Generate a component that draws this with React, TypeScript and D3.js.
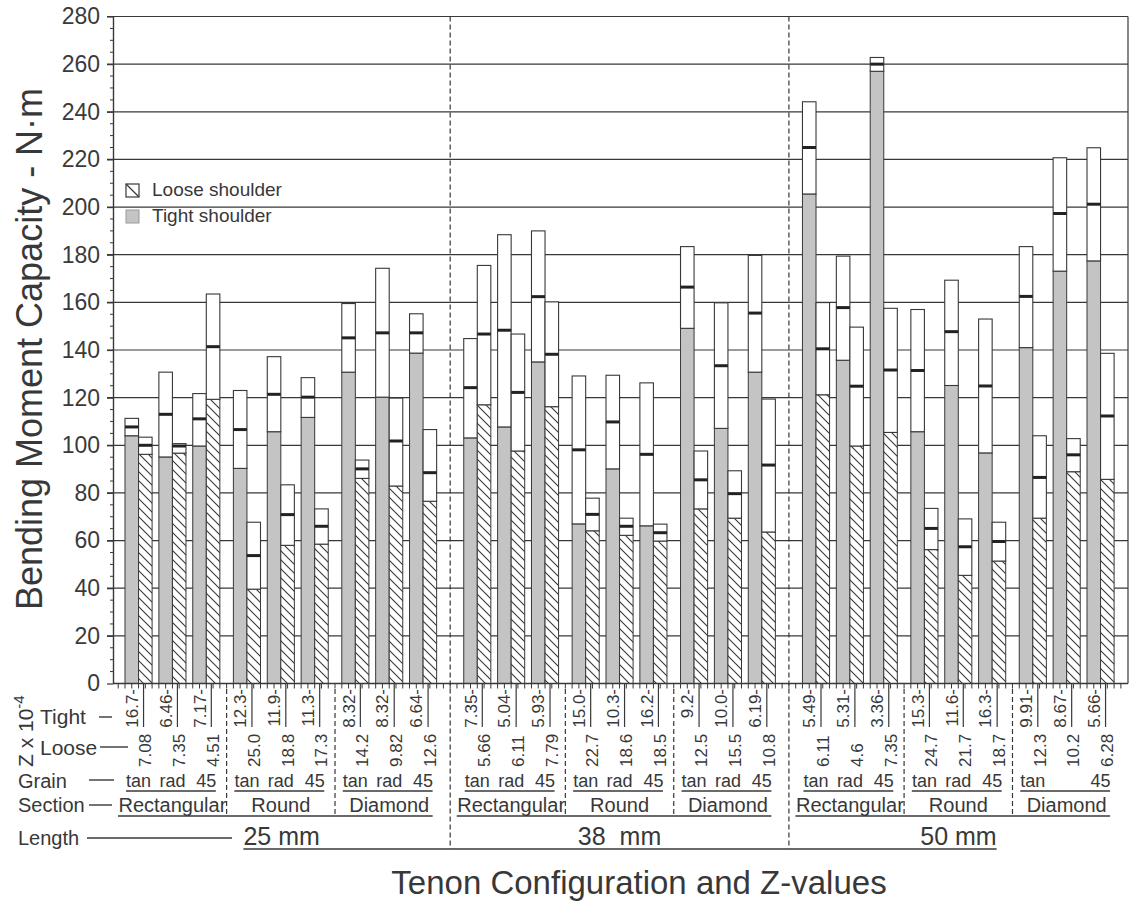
import React, { useEffect, useRef } from "react";
import * as d3 from "d3";

// lengths / sections / grains (27 groups = 3 x 3 x 3)
const lengths = ["25 mm", "38  mm", "50 mm"];
const sections = ["Rectangular", "Round", "Diamond"];
const grainLabels = [
  "tan", "rad", "45", "tan", "rad", "45", "tan", "rad", "45",
  "tan", "rad", "45", "tan", "rad", "45", "tan", "rad", "45",
  "tan", "rad", "45", "tan", "rad", "45", "tan", "", "45",
];

// tight shoulder: min / mean / max
const tightMin = [104, 95.1, 99.7, 90.3, 105.7, 111.7, 130.7, 120.2, 138.7,
  103.1, 107.7, 135, 67, 90.1, 66.2, 149.1, 107.1, 130.7,
  205.5, 135.7, 257, 105.7, 125.1, 96.8, 141, 173.1, 177.4];
const tightMean = [107.7, 113, 111.1, 106.6, 121.4, 120.2, 145.1, 147.2, 147.2,
  124.2, 148.3, 162.4, 98.1, 109.8, 96.2, 166.4, 133.4, 155.5,
  225, 157.8, 260, 131.4, 147.7, 124.9, 162.5, 197.3, 201.2];
const tightMax = [111.3, 130.7, 121.7, 123, 137.2, 128.4, 159.5, 174.3, 155.2,
  144.8, 188.4, 190, 129.1, 129.4, 126.2, 183.4, 159.8, 179.7,
  244.2, 179.4, 262.8, 157, 169.3, 153, 183.4, 220.7, 224.9];

// loose shoulder: min / mean / max
const looseMin = [96.2, 96.7, 119.3, 39.6, 58, 58.5, 86.1, 82.9, 76.5,
  117, 97.6, 116.2, 64.1, 62.2, 59.8, 73.3, 69.4, 63.6,
  121.2, 99.7, 105.4, 56.2, 45.4, 51.4, 69.4, 88.9, 85.7];
const looseMean = [100, 99.7, 141.4, 53.7, 70.9, 66, 90.1, 101.8, 88.5,
  146.7, 122.2, 138.2, 71, 66, 63.3, 85.5, 79.7, 91.7,
  140.5, 124.8, 131.6, 65.1, 57.4, 59.6, 86.5, 96, 112.3];
const looseMax = [103.4, 100.7, 163.5, 67.7, 83.4, 73.3, 93.8, 119.8, 106.6,
  175.5, 146.7, 160.2, 77.8, 69.4, 66.9, 97.6, 89.3, 119.4,
  159.9, 149.6, 157.5, 73.5, 69.1, 67.7, 104, 102.8, 138.6];

// Z x 10^-4 values
const tightZ = ["16.7", "6.46", "7.17", "12.3", "11.9", "11.3", "8.32", "8.32", "6.64",
  "7.35", "5.04", "5.93", "15.0", "10.3", "16.2", "9.2", "10.0", "6.19",
  "5.49", "5.31", "3.36", "15.3", "11.6", "16.3", "9.91", "8.67", "5.66"];
const looseZ = ["7.08", "7.35", "4.51", "25.0", "18.8", "17.3", "14.2", "9.82", "12.6",
  "5.66", "6.11", "7.79", "22.7", "18.6", "18.5", "12.5", "15.5", "10.8",
  "6.11", "4.6", "7.35", "24.7", "21.7", "18.7", "12.3", "10.2", "6.28"];

const yTicks = [0, 20, 40, 60, 80, 100, 120, 140, 160, 180, 200, 220, 240, 260, 280];

export default function App() {
  const ref = useRef<SVGSVGElement>(null);

  useEffect(() => {
    const svg = d3.select(ref.current);
    svg.selectAll("*").remove();

    const font = "'Liberation Sans', Arial, Helvetica, sans-serif";
    const ink = "#383838";
    const gray = "#c4c4c4";
    const left = 113, right = 1128;

    const y = d3.scaleLinear().domain([0, 280]).range([683.5, 16.5]);
    // bar layout in "slot units": each bar is 2 units wide
    const x = d3.scaleLinear().domain([0, 142]).range([125, 1087]);
    const bw = x(2) - x(0);
    const slot = (i: number) =>
      Math.floor(i / 9) * 50 + Math.floor((i % 9) / 3) * 16 + (i % 3) * 5;

    const defs = svg.append("defs");
    const pat = defs.append("pattern")
      .attr("id", "hatch")
      .attr("patternUnits", "userSpaceOnUse")
      .attr("width", 9).attr("height", 9);
    pat.append("rect").attr("width", 9).attr("height", 9).attr("fill", "#fff");
    pat.append("path")
      .attr("d", "M0,0L9,9M-1,8L1,10M8,-1L10,1")
      .attr("stroke", ink).attr("stroke-width", 1.1);

    const g = svg.append("g").attr("font-family", font).attr("fill", ink);

    // grid
    g.selectAll(".grid")
      .data(yTicks.filter((d) => d > 0))
      .enter().append("line")
      .attr("x1", left - 6).attr("x2", right)
      .attr("y1", (d) => y(d)).attr("y2", (d) => y(d))
      .attr("stroke", ink).attr("stroke-width", 1.2);
    g.append("line")
      .attr("x1", right).attr("x2", right)
      .attr("y1", y(280)).attr("y2", y(0))
      .attr("stroke", ink).attr("stroke-width", 1.2);

    // minor y ticks
    g.selectAll(".minor")
      .data(d3.range(5, 280, 5).filter((d) => d % 20 !== 0))
      .enter().append("line")
      .attr("x1", left - 3).attr("x2", left)
      .attr("y1", (d) => y(d)).attr("y2", (d) => y(d))
      .attr("stroke", ink);

    // y axis
    const yAxis = g.append("g")
      .attr("transform", `translate(${left},0)`)
      .call(d3.axisLeft(y).tickValues(yTicks).tickSize(6).tickPadding(7).tickSizeOuter(0));
    yAxis.select(".domain").attr("stroke", ink).attr("stroke-width", 1.4);
    yAxis.selectAll("line").attr("stroke", ink).attr("stroke-width", 1.2);
    yAxis.selectAll("text")
      .attr("font-family", font).attr("font-size", 23).attr("fill", "#3a3a3a");

    // x ticks along axis
    g.selectAll(".xt")
      .data(d3.range(-1, 148))
      .enter().append("line")
      .attr("x1", (d) => x(d)).attr("x2", (d) => x(d))
      .attr("y1", y(0)).attr("y2", y(0) + 5)
      .attr("stroke", ink);

    // bars
    const idx = d3.range(27);
    const bars = g.selectAll(".grp").data(idx).enter().append("g");
    const drawBar = (sel: any, dx: number, mins: number[], means: number[], maxs: number[], fill: string) => {
      sel.append("rect")
        .attr("x", (i: number) => x(slot(i)) + dx).attr("width", bw)
        .attr("y", (i: number) => y(mins[i])).attr("height", (i: number) => y(0) - y(mins[i]))
        .attr("fill", fill).attr("stroke", ink).attr("stroke-width", 1);
      sel.append("rect")
        .attr("x", (i: number) => x(slot(i)) + dx).attr("width", bw)
        .attr("y", (i: number) => y(maxs[i])).attr("height", (i: number) => y(mins[i]) - y(maxs[i]))
        .attr("fill", "#fff").attr("stroke", ink).attr("stroke-width", 1.1);
      sel.append("line")
        .attr("x1", (i: number) => x(slot(i)) + dx).attr("x2", (i: number) => x(slot(i)) + dx + bw)
        .attr("y1", (i: number) => y(means[i])).attr("y2", (i: number) => y(means[i]))
        .attr("stroke", "#222").attr("stroke-width", 3);
    };
    drawBar(bars, 0, tightMin, tightMean, tightMax, gray);
    drawBar(bars, bw, looseMin, looseMean, looseMax, "url(#hatch)");

    g.append("line")
      .attr("x1", left).attr("x2", right)
      .attr("y1", y(0)).attr("y2", y(0))
      .attr("stroke", ink).attr("stroke-width", 1.4);
    g.append("line")
      .attr("x1", left).attr("x2", right)
      .attr("y1", y(280)).attr("y2", y(280))
      .attr("stroke", ink).attr("stroke-width", 1.2);

    // legend
    g.append("rect").attr("x", 126).attr("y", 184).attr("width", 13).attr("height", 13)
      .attr("fill", "#fff").attr("stroke", ink).attr("stroke-width", 1.2);
    g.append("line").attr("x1", 126).attr("y1", 184).attr("x2", 139).attr("y2", 197)
      .attr("stroke", ink).attr("stroke-width", 1.2);
    g.append("rect").attr("x", 126).attr("y", 210).attr("width", 13).attr("height", 13)
      .attr("fill", gray).attr("stroke", "#999").attr("stroke-width", 1);
    g.append("text").attr("x", 152).attr("y", 196).attr("font-size", 19).text("Loose shoulder");
    g.append("text").attr("x", 152).attr("y", 222).attr("font-size", 19).text("Tight shoulder");

    // Z values
    bars.append("text")
      .attr("transform", (i: number) => `translate(${x(slot(i)) + bw / 2 + 6},689) rotate(-90)`)
      .attr("text-anchor", "end").attr("font-size", 17)
      .text((i: number) => tightZ[i] + "-");
    bars.append("text")
      .attr("transform", (i: number) => `translate(${x(slot(i)) + bw * 1.5 + 6},767) rotate(-90)`)
      .attr("text-anchor", "start").attr("font-size", 17)
      .text((i: number) => looseZ[i]);
    bars.append("line")
      .attr("x1", (i: number) => x(slot(i)) + bw + 5).attr("x2", (i: number) => x(slot(i)) + bw + 5)
      .attr("y1", y(0)).attr("y2", 727)
      .attr("stroke", ink).attr("stroke-width", 1.2);

    // grain labels
    bars.append("text")
      .attr("x", (i: number) => x(slot(i)) + bw).attr("y", 787)
      .attr("text-anchor", "middle").attr("font-size", 18)
      .text((i: number) => grainLabels[i]);

    // section labels, grain underlines, separators
    const secIdx = d3.range(9);
    secIdx.forEach((s) => {
      const first = s * 3, last = s * 3 + 2;
      g.append("line")
        .attr("x1", x(slot(first)) + 1).attr("x2", x(slot(last)) + 2 * bw - 4)
        .attr("y1", 791).attr("y2", 791)
        .attr("stroke", ink).attr("stroke-width", 1.4);
      g.append("text")
        .attr("x", x(slot(first + 1)) + bw).attr("y", 812)
        .attr("text-anchor", "middle").attr("font-size", 20)
        .text(sections[s % 3]);
      if (s % 3 !== 2) {
        const sx = x(slot(last) + 5);
        g.append("line")
          .attr("x1", sx).attr("x2", sx).attr("y1", 689).attr("y2", 814)
          .attr("stroke", ink).attr("stroke-width", 1.2).attr("stroke-dasharray", "5,3");
      }
    });

    // lengths
    const lenSep = [x(48), x(98)];
    lenSep.forEach((sx) => {
      g.append("line")
        .attr("x1", sx).attr("x2", sx).attr("y1", y(280)).attr("y2", 849)
        .attr("stroke", ink).attr("stroke-width", 1.2).attr("stroke-dasharray", "5,3");
    });
    const blocks = [[left, lenSep[0]], [lenSep[0], lenSep[1]], [lenSep[1], right]];
    lengths.forEach((L, k) => {
      const first = k * 9, last = k * 9 + 8;
      g.append("line")
        .attr("x1", x(slot(first)) - 7).attr("x2", x(slot(last)) + 2 * bw - 4)
        .attr("y1", 816).attr("y2", 816)
        .attr("stroke", ink).attr("stroke-width", 1.4);
      const cx = (blocks[k][0] + blocks[k][1]) / 2;
      const t = g.append("text")
        .attr("x", cx).attr("y", 845)
        .attr("text-anchor", "middle").attr("font-size", 25)
        .attr("xml:space", "preserve")
        .style("white-space", "pre")
        .text(L);
      const w = (t.node() as SVGTextElement).getComputedTextLength();
      const x1 = k === 0 ? cx - w / 2 : blocks[k][0];
      const x2 = k === 2 ? cx + w / 2 : blocks[k][1];
      g.append("line")
        .attr("x1", x1).attr("x2", x2).attr("y1", 849).attr("y2", 849)
        .attr("stroke", ink).attr("stroke-width", 1.4);
    });

    // row captions
    const caption = (txt: string, tx: number, ty: number, size: number, lx1: number, lx2: number, ly: number) => {
      g.append("text").attr("x", tx).attr("y", ty).attr("font-size", size).text(txt);
      g.append("line").attr("x1", lx1).attr("x2", lx2).attr("y1", ly).attr("y2", ly)
        .attr("stroke", ink).attr("stroke-width", 1.4);
    };
    caption("Tight", 40, 724, 21, 99, 112, 717);
    caption("Loose", 40, 755, 21, 100, 128, 747);
    caption("Grain", 18, 788, 20, 89, 114, 780);
    caption("Section", 18, 812, 20, 89, 112, 805);
    caption("Length", 18, 845, 20, 87, 232, 838);

    const z = g.append("text")
      .attr("transform", "translate(33,767) rotate(-90)")
      .attr("font-size", 21);
    z.append("tspan").text("Z x 10");
    z.append("tspan").attr("dy", -9).attr("font-size", 15).text("-4");

    // axis titles
    g.append("text")
      .attr("transform", "translate(42,349) rotate(-90)")
      .attr("text-anchor", "middle").attr("font-size", 36)
      .text("Bending Moment Capacity - N\u00b7m");
    g.append("text")
      .attr("x", 639).attr("y", 894)
      .attr("text-anchor", "middle").attr("font-size", 33)
      .text("Tenon Configuration and Z-values");
  }, []);

  return (
    <svg
      ref={ref}
      width={1133}
      height={904}
      style={{ position: "absolute", left: 0, top: 0, background: "#fff" }}
    />
  );
}
